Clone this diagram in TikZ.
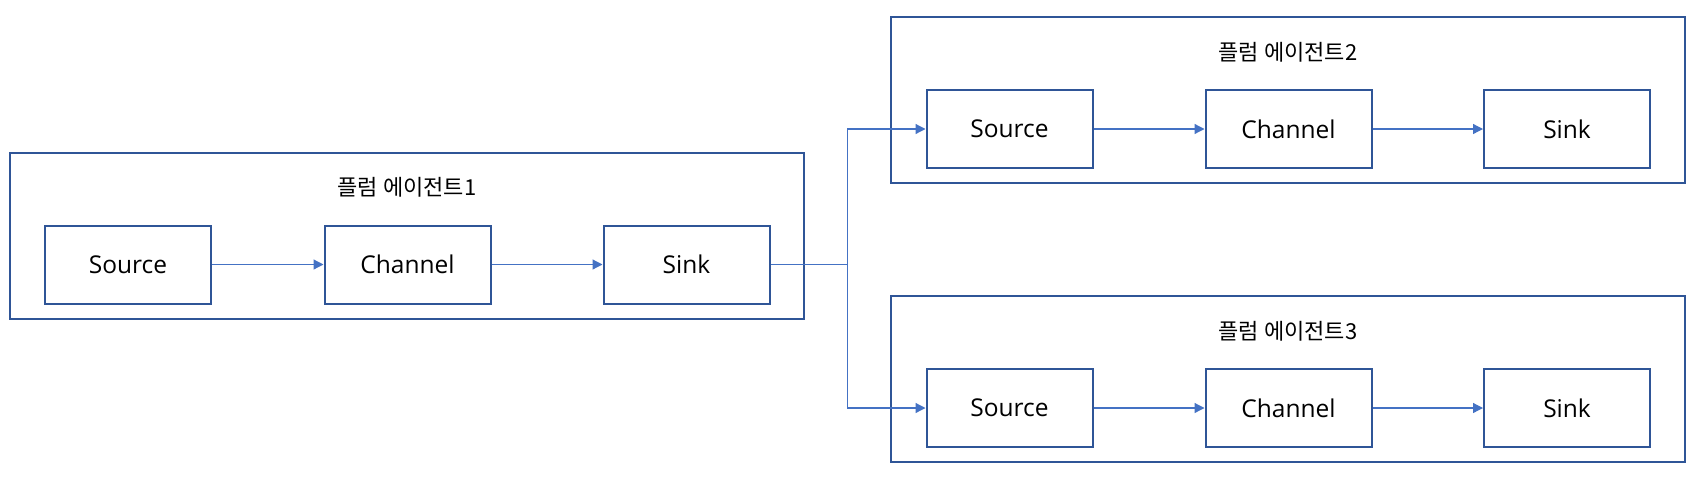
\documentclass[tikz,border=0pt]{standalone}
\usepackage{fontspec}
\setmainfont{Open Sans}
\newfontfamily\kr{Noto Sans CJK KR}
\usetikzlibrary{arrows.meta}
\definecolor{boxblue}{HTML}{2F5597}
\definecolor{lineblue}{HTML}{4472C4}
\begin{document}
\begin{tikzpicture}[x=1pt,y=-1pt,
  agent/.style={draw=boxblue,line width=2pt,minimum width=794pt,minimum height=166pt,inner sep=0pt},
  comp/.style={draw=boxblue,line width=2pt,fill=white,minimum width=166pt,minimum height=78pt,inner sep=0pt,font=\fontsize{24.5}{28}\selectfont},
  ttl/.style={font=\kr\fontsize{22}{26}\selectfont,inner sep=0pt},
  flow/.style={draw=lineblue,line width=1.2pt,-{Triangle[length=10pt,width=10pt]}},
  plain/.style={draw=lineblue,line width=1.2pt}]
\useasboundingbox (0,0) rectangle (1704,482);
% agent 1
\node[agent] (a1) at (407,236) {};
\node[ttl] (t1) at (407,187) {플럼 에이전트1};
\node[comp] (so1) at (128,264.5) {Source};
\node[comp] (ch1) at (407.5,264.5) {Channel};
\node[comp] (si1) at (686.5,264.5) {Sink};
% agent 2
\node[agent] (a2) at (1288,99.5) {};
\node[ttl] (t2) at (1288,52) {플럼 에이전트2};
\node[comp] (so2) at (1009.5,129) {Source};
\node[comp] (ch2) at (1288.5,129) {Channel};
\node[comp] (si2) at (1567,129) {Sink};
% agent 3
\node[agent] (a3) at (1288,379) {};
\node[ttl] (t3) at (1288,331) {플럼 에이전트3};
\node[comp] (so3) at (1009.5,408) {Source};
\node[comp] (ch3) at (1288.5,408) {Channel};
\node[comp] (si3) at (1567,408) {Sink};
% flows
\draw[flow] (so1) -- (ch1);
\draw[flow] (ch1) -- (si1);
\draw[flow] (so2) -- (ch2);
\draw[flow] (ch2) -- (si2);
\draw[flow] (so3) -- (ch3);
\draw[flow] (ch3) -- (si3);
\coordinate (br) at (847.5,264.5);
\draw[plain] (si1.east) -- (br);
\draw[flow] (br) |- (so2.west);
\draw[flow] (br) |- (so3.west);
\end{tikzpicture}
\end{document}
